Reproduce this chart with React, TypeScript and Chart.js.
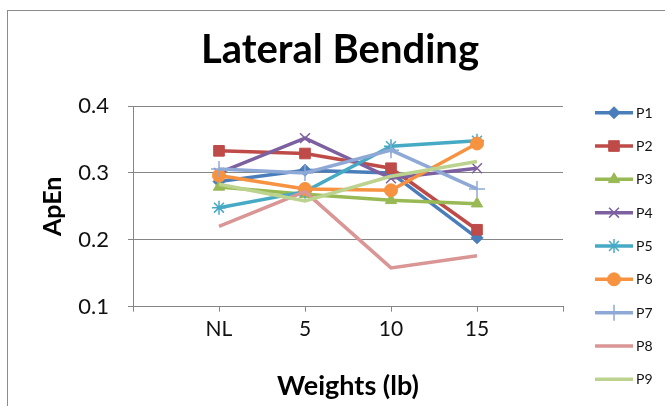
import React, { useEffect, useRef } from 'react';
import { Chart, registerables } from 'chart.js';
import { drawPoint } from 'chart.js/helpers';

Chart.register(...registerables);

// ---- data ----
const categories = ['', 'NL', '5', '10', '15', ''];
const seriesNames = ['P1', 'P2', 'P3', 'P4', 'P5', 'P6', 'P7', 'P8', 'P9'];
const P1 = [0.287, 0.304, 0.300, 0.203];
const P2 = [0.333, 0.329, 0.307, 0.215];
const P3 = [0.279, 0.268, 0.259, 0.254];
const P4 = [0.300, 0.352, 0.292, 0.307];
const P5 = [0.248, 0.272, 0.340, 0.348];
const P6 = [0.296, 0.276, 0.274, 0.344];
const P7 = [0.306, 0.300, 0.334, 0.276];
const P8 = [0.220, 0.272, 0.158, 0.176];
const P9 = [0.283, 0.258, 0.295, 0.317];
const seriesValues = [P1, P2, P3, P4, P5, P6, P7, P8, P9];
const yTickValues = [0.1, 0.2, 0.3, 0.4];
const chartTitle = 'Lateral Bending';
const xTitle = 'Weights (lb)';
const yTitle = 'ApEn';

// ---- styles ----
const colors = ['#4A7EBB', '#BE4B48', '#98B954', '#7D60A0', '#46AAC5', '#F69240', '#8FA9D6', '#D99694', '#BCD38F'];
const pointStyles: any[] = ['rectRot', 'rect', 'triangle', 'crossRot', 'star', 'circle', 'cross', false, false];
const pointRadii = [6, 7.5, 6.5, 7, 7, 6.5, 8, 0, 0];
const FONT = 'Lato, "Open Sans", sans-serif';

const frame = {
  id: 'frame',
  beforeDraw(chart: any) {
    const ctx = chart.ctx;
    ctx.save();
    ctx.fillStyle = '#ffffff';
    ctx.fillRect(0, 0, chart.width, chart.height);
    ctx.strokeStyle = '#8c8c8c';
    ctx.lineWidth = 1;
    ctx.strokeRect(7.5, 10.5, 800, 600);
    ctx.restore();
  },
  afterDraw(chart: any) {
    const ctx = chart.ctx;
    ctx.save();
    ctx.fillStyle = '#000';
    ctx.font = `bold 40px ${FONT}`;
    ctx.textAlign = 'center';
    ctx.textBaseline = 'middle';
    ctx.fillText(chartTitle, 340, 50);
    ctx.restore();
  },
};

const sideLegend = {
  id: 'sideLegend',
  afterDraw(chart: any) {
    const ctx = chart.ctx;
    const x0 = 595;
    const x1 = 633;
    const top = 112.7;
    const step = 33.33;
    chart.data.datasets.forEach((ds: any, i: number) => {
      const y = top + i * step;
      ctx.save();
      ctx.strokeStyle = ds.borderColor;
      ctx.lineWidth = 3.5;
      ctx.beginPath();
      ctx.moveTo(x0, y);
      ctx.lineTo(x1, y);
      ctx.stroke();
      if (ds.pointStyle) {
        ctx.fillStyle = ds.pointBackgroundColor;
        ctx.strokeStyle = ds.pointBorderColor;
        ctx.lineWidth = ds.pointBorderWidth;
        drawPoint(ctx, { pointStyle: ds.pointStyle, rotation: 0, radius: ds.pointRadius, borderWidth: ds.pointBorderWidth } as any, (x0 + x1) / 2, y);
      }
      ctx.fillStyle = '#111';
      ctx.font = `14px ${FONT}`;
      ctx.textAlign = 'left';
      ctx.textBaseline = 'middle';
      ctx.fillText(ds.label, 636, y + 0.5);
      ctx.restore();
    });
  },
};

export default function App() {
  const ref = useRef<HTMLCanvasElement>(null);
  useEffect(() => {
    if (!ref.current) return;
    const datasets = seriesNames.map((name, i) => ({
      label: name,
      data: [null, ...seriesValues[i], null],
      borderColor: colors[i],
      backgroundColor: colors[i],
      pointBackgroundColor: colors[i],
      pointBorderColor: colors[i],
      pointBorderWidth: i === 3 || i === 4 || i === 6 ? 1.5 : 1,
      pointStyle: pointStyles[i],
      pointRadius: pointRadii[i],
      borderWidth: 3.5,
      tension: 0,
      order: seriesNames.length - i,
    }));
    const chart = new Chart(ref.current, {
      type: 'line',
      data: { labels: categories, datasets },
      plugins: [frame, sideLegend],
      options: {
        animation: false,
        responsive: false,
        layout: { padding: { left: 0, right: 102, top: 106, bottom: 0 } },
        plugins: {
          legend: { display: false },
          tooltip: { enabled: false },
          title: { display: false },
        },
        scales: {
          x: {
            type: 'category',
            offset: false,
            grid: { drawOnChartArea: false, drawTicks: true, tickLength: 5, color: '#868686' },
            border: { display: true, color: '#868686', width: 1 },
            ticks: {
              color: '#111',
              font: { family: FONT, size: 21 },
              padding: 5,
              autoSkip: false,
              maxRotation: 0,
            },
            title: {
              display: true,
              text: xTitle,
              color: '#000',
              font: { family: FONT, size: 27, weight: 'bold', lineHeight: 1.2 },
              padding: { top: 0, bottom: 4 },
            },
            afterFit(scale: any) {
              scale.height = 406 - 306.7;
            },
          },
          y: {
            min: 0.1,
            max: 0.4,
            afterBuildTicks(scale: any) {
              scale.ticks = yTickValues.map((v) => ({ value: v }));
            },
            grid: { drawOnChartArea: true, drawTicks: true, tickLength: 5, color: '#868686' },
            border: { display: true, color: '#868686', width: 1 },
            ticks: {
              color: '#111',
              font: { family: FONT, size: 22 },
              padding: 19,
              callback: (v: any) => Number(v).toFixed(1),
            },
            title: {
              display: true,
              text: yTitle,
              color: '#000',
              font: { family: FONT, size: 25, weight: 'bold', lineHeight: 1.2 },
              padding: { top: 38, bottom: 0 },
            },
            afterFit(scale: any) {
              scale.width = 133;
            },
          },
        },
      } as any,
    });
    return () => chart.destroy();
  }, []);
  return (
    <div style={{ position: 'absolute', left: 0, top: 0, width: 665, height: 406 }}>
      <canvas ref={ref} width={665} height={406} />
    </div>
  );
}
